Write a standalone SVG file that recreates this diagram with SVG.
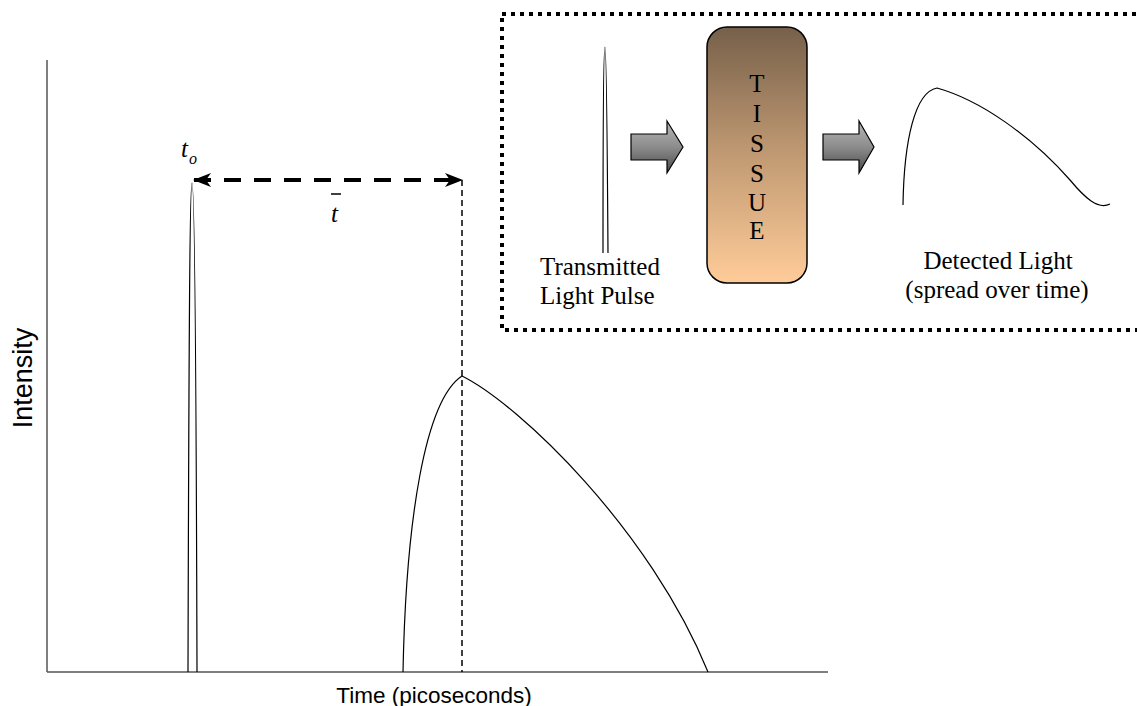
<svg xmlns="http://www.w3.org/2000/svg" width="1137" height="706" viewBox="0 0 1137 706">
<defs>
<style>
.axis{stroke:#555;stroke-width:1.5;fill:none}
.curve{stroke:#000;stroke-width:1.2;fill:none}
.sans{font-family:"Liberation Sans",Arial,sans-serif;fill:#000}
.serif{font-family:"Liberation Serif","Times New Roman",serif;fill:#000}
.garrow{fill:url(#gray);stroke:#000;stroke-width:1.2}
</style>
<linearGradient id="tissue" x1="0" y1="0" x2="0" y2="1">
<stop offset="0" stop-color="#76604a"/>
<stop offset="0.5" stop-color="#c19a73"/>
<stop offset="1" stop-color="#ffcc99"/>
</linearGradient>
<linearGradient id="gray" x1="0" y1="0" x2="0" y2="1">
<stop offset="0" stop-color="#b8b8b8"/>
<stop offset="0.5" stop-color="#8c8c8c"/>
<stop offset="1" stop-color="#4a4a4a"/>
</linearGradient>
<marker id="head" viewBox="0 0 18 14" refX="17" refY="7" markerWidth="18" markerHeight="14" markerUnits="userSpaceOnUse" orient="auto-start-reverse">
<path d="M0,0 L18,7 L0,14 L5,7 Z" fill="#000"/>
</marker>
</defs>
<rect width="1137" height="706" fill="#fff"/>

<g id="axes">
<line class="axis" x1="47" y1="60" x2="47" y2="672"/>
<line class="axis" x1="47" y1="672" x2="828" y2="672"/>
<text class="sans" font-size="27" transform="translate(32,378) rotate(-90)" text-anchor="middle">Intensity</text>
<text class="sans" font-size="22.5" x="434" y="703" text-anchor="middle">Time (picoseconds)</text>
</g>

<g id="narrow-pulse">
<path class="curve" d="M188,672 C189,300 190,183 192,183 C194,183 196,300 197,672"/>
<text class="serif" font-style="italic" font-size="25" x="181" y="157">t</text>
<text class="serif" font-style="italic" font-size="16" x="189" y="164">o</text>
</g>

<g id="broad-pulse">
<path class="curve" d="M403,672 C406,520 425,400 462,376 C520,405 650,530 708,672"/>
</g>

<g id="connectors">
<line x1="462" y1="180" x2="462" y2="672" stroke="#000" stroke-width="1.5" stroke-dasharray="6 4"/>
<line x1="194" y1="180" x2="462" y2="180" stroke="#000" stroke-width="4" stroke-dasharray="17 13" marker-start="url(#head)" marker-end="url(#head)"/>
</g>

<g id="tbar">
<line x1="331" y1="194" x2="341" y2="194" stroke="#000" stroke-width="1.5"/>
<text class="serif" font-style="italic" font-size="25" x="331" y="222">t</text>
</g>

<g id="inset">
<rect x="502" y="14" width="660" height="316" fill="none" stroke="#000" stroke-width="4" stroke-dasharray="4 5"/>
</g>

<g id="transmitted">
<path class="curve" d="M603,253 C603,100 604,47 605,47 C606,47 607,100 608,253"/>
<text class="serif" font-size="25" x="540" y="275">Transmitted</text>
<text class="serif" font-size="25" x="540" y="304">Light Pulse</text>
</g>

<g id="arrow1">
<path class="garrow" d="M631,134 L667,134 L667,121 L683,147 L667,173 L667,160 L631,160 Z"/>
</g>

<g id="tissue-box">
<rect x="707" y="27" width="100" height="256" rx="20" ry="20" fill="url(#tissue)" stroke="#000" stroke-width="1.5"/>
<g class="serif" font-size="25" text-anchor="middle">
<text x="757" y="92">T</text>
<text x="757" y="122">I</text>
<text x="757" y="152">S</text>
<text x="757" y="182">S</text>
<text x="757" y="211">U</text>
<text x="757" y="239">E</text>
</g>
</g>

<g id="arrow2">
<path class="garrow" d="M823,134 L859,134 L859,121 L874,147 L859,173 L859,160 L823,160 Z"/>
</g>

<g id="detected">
<path class="curve" d="M903,205 C904,140 915,92 937,88 C980,100 1030,135 1070,180 C1085,198 1098,210 1110,204"/>
<text class="serif" font-size="25" x="998" y="269" text-anchor="middle">Detected Light</text>
<text class="serif" font-size="25" x="997" y="298" text-anchor="middle">(spread over time)</text>
</g>
</svg>
